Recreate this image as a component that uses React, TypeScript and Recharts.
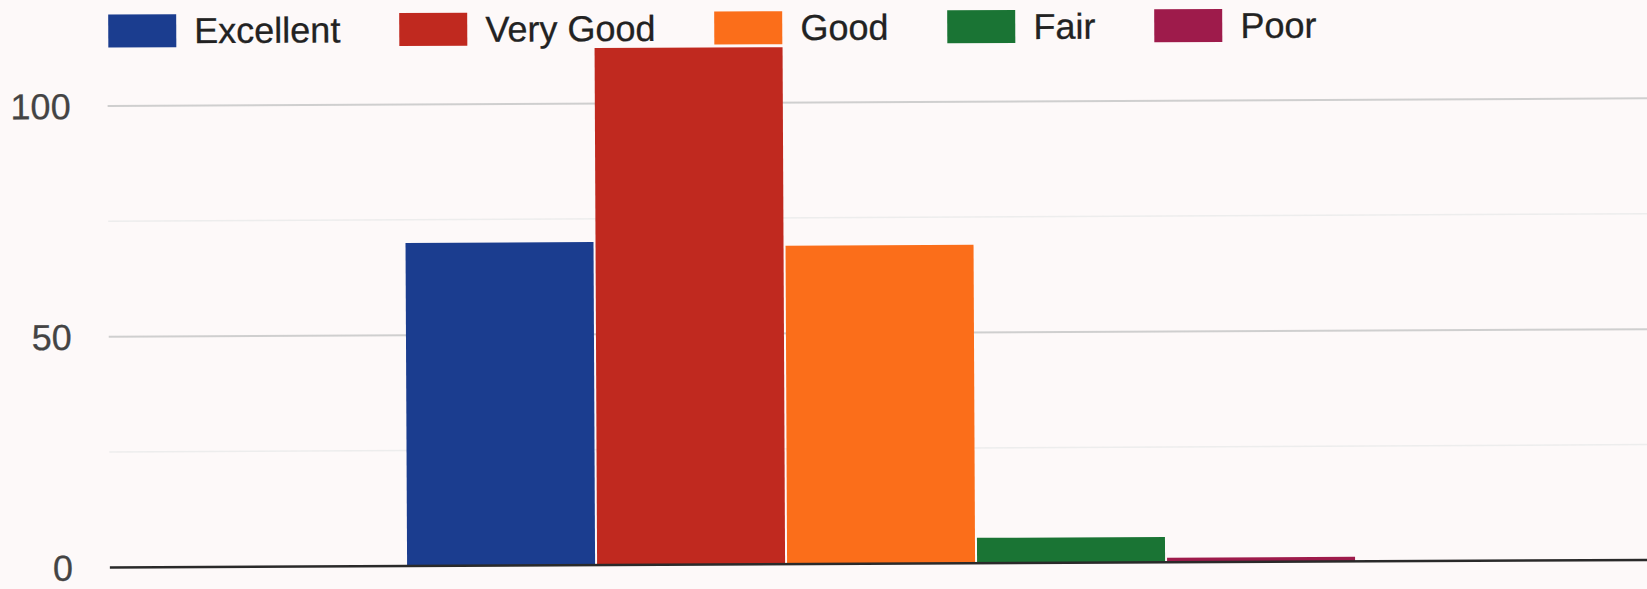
import { BarChart, Bar, XAxis, YAxis, CartesianGrid, ReferenceLine } from "recharts";

const categories = ["Rating"];
const seriesNames = ["Excellent", "Very Good", "Good", "Fair", "Poor"];
const seriesValues = [70, 112, 69, 5.5, 1];
const seriesColors = ["#1b3d8f", "#c0291f", "#fb6e1a", "#1a7434", "#9e1b4b"];
const yTicks = [0, 50, 100];
const majorGrid = [50, 100];
const minorGrid = [25, 75];

const FONT = '"Liberation Sans", Arial, sans-serif';

const data = categories.map((c) => {
  const row: Record<string, string | number> = { name: c };
  seriesValues.forEach((v, i) => (row[`s${i}`] = v));
  return row;
});

function YTick(props: any) {
  const { x, y, payload } = props;
  return (
    <text
      x={x}
      y={y}
      dy={13}
      textAnchor="end"
      fill="#444"
      stroke="#444"
      strokeWidth={0.3}
      fontSize={36}
      fontFamily={FONT}
    >
      {payload.value}
    </text>
  );
}

function LegendRow() {
  return (
    <div
      style={{
        position: "absolute",
        left: 108,
        top: 35,
        display: "flex",
        alignItems: "center",
        fontFamily: FONT,
        fontSize: 36,
        color: "#222",
        WebkitTextStroke: "0.3px #222",
        whiteSpace: "nowrap",
      }}
    >
      {seriesNames.map((n, i) => (
        <div key={n} style={{ display: "flex", alignItems: "center", marginRight: 59 }}>
          <span style={{ width: 68, height: 33, background: seriesColors[i], marginRight: 18 }} />
          <span style={{ lineHeight: "33px" }}>{n}</span>
        </div>
      ))}
    </div>
  );
}

export default function App() {
  return (
    <div
      style={{
        position: "absolute",
        left: 0,
        top: 0,
        width: 1647,
        height: 589,
        overflow: "hidden",
        background: "#fdf9f9",
      }}
    >
      {/* the scan is tilted a little */}
      <div
        style={{
          position: "absolute",
          left: 0,
          top: -20,
          width: 1660,
          height: 620,
          transformOrigin: "0 0",
          transform: "rotate(-0.28deg)",
        }}
      >
        <BarChart
          width={1660}
          height={620}
          data={data}
          margin={{ top: 11, right: 13, left: 0, bottom: 32 }}
          barCategoryGap="19.3%"
          barGap={2}
        >
          <CartesianGrid vertical={false} horizontalValues={minorGrid} stroke="#ededed" strokeWidth={1.5} />
          <CartesianGrid vertical={false} horizontalValues={majorGrid} stroke="#cfcfcf" strokeWidth={2} />
          <XAxis dataKey="name" hide />
          <YAxis
            domain={[0, 125]}
            ticks={yTicks}
            axisLine={false}
            tickLine={false}
            width={107}
            tickMargin={31}
            tick={<YTick />}
          />
          {seriesNames.map((n, i) => (
            <Bar key={n} dataKey={`s${i}`} name={n} fill={seriesColors[i]} isAnimationActive={false} />
          ))}
          <ReferenceLine y={0} stroke="#2a2a2a" strokeWidth={2.5} />
        </BarChart>
        <LegendRow />
      </div>
    </div>
  );
}
